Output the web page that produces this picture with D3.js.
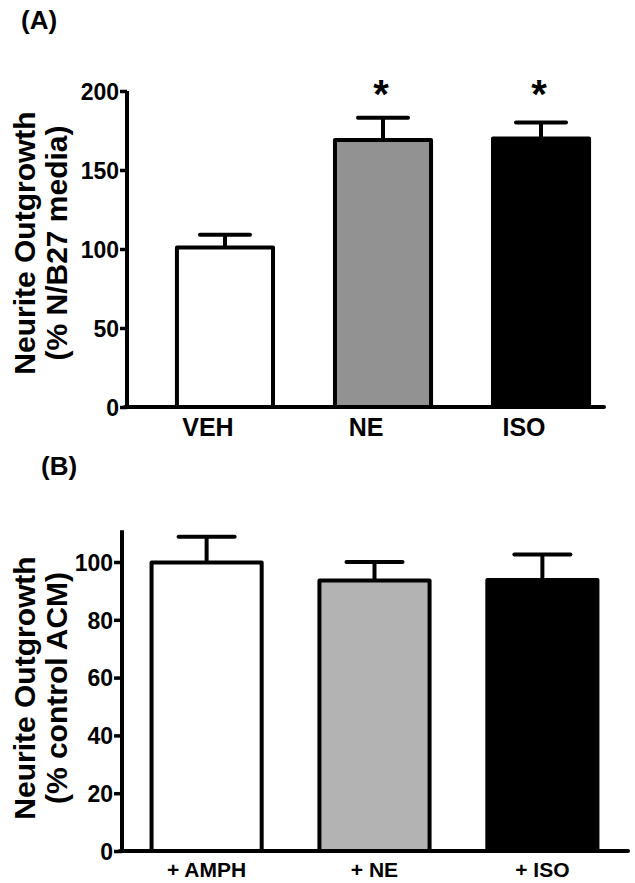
<!DOCTYPE html>
<html>
<head>
<meta charset="utf-8">
<script src="https://cdn.jsdelivr.net/npm/d3@7"></script>
<style>
  html, body { margin: 0; padding: 0; background: #fff; }
  svg { display: block; }
  text { font-family: "Liberation Sans", Arial, Helvetica, sans-serif; font-weight: bold; fill: #000; }
</style>
</head>
<body>
<svg id="chart" width="635" height="883"></svg>
<script>
// ---- Data ----
const categoriesA = ["VEH", "NE", "ISO"];
const meansA = [101, 169, 170];
const semA = [8, 14, 10];
const signifA = ["", "*", "*"];
const ticksA = [0, 50, 100, 150, 200];

const categoriesB = ["+ AMPH", "+ NE", "+ ISO"];
const meansB = [99.8, 93.6, 93.8];
const semB = [8.9, 6.4, 8.8];
const ticksB = [0, 20, 40, 60, 80, 100];

const fillsA = ["#ffffff", "#929292", "#000000"];
const fillsB = ["#ffffff", "#b3b3b3", "#000000"];

const svg = d3.select("#chart");
const SW = 4;

function panel(opt) {
  const g = svg.append("g");
  const y = d3.scaleLinear().domain(opt.yDomain).range([opt.y0, opt.y1]);
  const x = d3.scaleBand().domain(opt.cats).range([opt.axisX, opt.bandEnd])
    .paddingInner(opt.pIn).paddingOuter(opt.pOut);

  const data = opt.cats.map((c, i) => ({c, m: opt.means[i], s: opt.sem[i], f: opt.fills[i], sig: opt.sig ? opt.sig[i] : ""}));
  // error bars (upper only)
  g.selectAll(".stem").data(data).join("line")
    .attr("x1", d => x(d.c) + x.bandwidth() / 2)
    .attr("x2", d => x(d.c) + x.bandwidth() / 2)
    .attr("y1", d => y(d.m))
    .attr("y2", d => y(d.m + d.s))
    .attr("stroke", "#000").attr("stroke-width", SW);
  g.selectAll(".cap").data(data).join("line")
    .attr("x1", d => x(d.c) + x.bandwidth() / 2 - opt.capW / 2)
    .attr("x2", d => x(d.c) + x.bandwidth() / 2 + opt.capW / 2)
    .attr("y1", d => y(d.m + d.s))
    .attr("y2", d => y(d.m + d.s))
    .attr("stroke", "#000").attr("stroke-width", SW).attr("stroke-linecap", "round");
  // bars
  g.selectAll(".bar").data(data).join("rect")
    .attr("x", d => x(d.c))
    .attr("width", x.bandwidth())
    .attr("y", d => y(d.m))
    .attr("height", d => y(0) - y(d.m))
    .attr("fill", d => d.f)
    .attr("stroke", "#000").attr("stroke-width", SW).attr("stroke-linejoin", "round");

  // significance
  g.selectAll(".sig").data(data.filter(d => d.sig)).join("text")
    .attr("x", d => x(d.c) + x.bandwidth() / 2 - 2)
    .attr("y", opt.sigY)
    .attr("text-anchor", "middle")
    .style("font-size", "40px")
    .text(d => d.sig);

  // y axis
  const yAxis = d3.axisLeft(y).tickValues(opt.ticks).tickSize(opt.tickLen).tickPadding(1).tickFormat(d3.format("d"));
  const ya = g.append("g").attr("transform", `translate(${opt.axisX},0)`).call(yAxis);
  ya.select(".domain").remove();
  ya.selectAll(".tick line").attr("stroke", "#000").attr("stroke-width", 3.5);
  ya.selectAll(".tick text").style("font-size", opt.tickFs + "px").attr("dy", "0.36em");
  g.append("line")
    .attr("x1", opt.axisX).attr("x2", opt.axisX)
    .attr("y1", y(opt.yTop)).attr("y2", y(0) + SW / 2)
    .attr("stroke", "#000").attr("stroke-width", SW);

  // x axis line
  g.append("line")
    .attr("x1", opt.axisX - SW / 2).attr("x2", opt.axisEnd)
    .attr("y1", y(0)).attr("y2", y(0))
    .attr("stroke", "#000").attr("stroke-width", SW).attr("stroke-linecap", "round");

  // category labels
  g.selectAll(".cat").data(opt.cats).join("text")
    .attr("x", d => x(d) + x.bandwidth() / 2 + opt.labelDx)
    .attr("y", opt.labelY)
    .attr("text-anchor", "middle")
    .style("font-size", opt.labelFs + "px")
    .text(d => d);

  // y title (two lines)
  const tg = g.append("g").attr("transform", `translate(0,${opt.titleCy}) rotate(-90)`);
  tg.append("text").attr("x", 0).attr("y", 35).attr("text-anchor", "middle")
    .style("font-size", "30px").text(opt.title1);
  tg.append("text").attr("x", 0).attr("y", 67).attr("text-anchor", "middle")
    .style("font-size", "30px").text(opt.title2);

  // panel letter
  g.append("text").attr("x", opt.letterX).attr("y", opt.letterY)
    .style("font-size", "26px").text(opt.letter);
}

panel({
  cats: categoriesA, means: meansA, sem: semA, fills: fillsA, sig: signifA,
  ticks: ticksA, yDomain: [0, 200], y0: 407, y1: 91, yTop: 200,
  axisX: 127, bandEnd: 639, axisEnd: 604, pIn: 0.392, pOut: 0.316,
  capW: 50, tickLen: 7, tickFs: 23, sigY: 108,
  labelY: 436, labelFs: 25, labelDx: -17,
  title1: "Neurite Outgrowth", title2: "(% N/B27 media)", titleCy: 243,
  letter: "(A)", letterX: 21, letterY: 29
});

panel({
  cats: categoriesB, means: meansB, sem: semB, fills: fillsB, sig: null,
  ticks: ticksB, yDomain: [0, 100], y0: 851, y1: 562, yTop: 111,
  axisX: 122, bandEnd: 627, axisEnd: 628, pIn: 0.344, pOut: 0.176,
  capW: 56, tickLen: 8, tickFs: 23, sigY: 0,
  labelY: 877, labelFs: 21, labelDx: 0,
  title1: "Neurite Outgrowth", title2: "(% control ACM)", titleCy: 688,
  letter: "(B)", letterX: 41, letterY: 475
});
</script>
</body>
</html>
